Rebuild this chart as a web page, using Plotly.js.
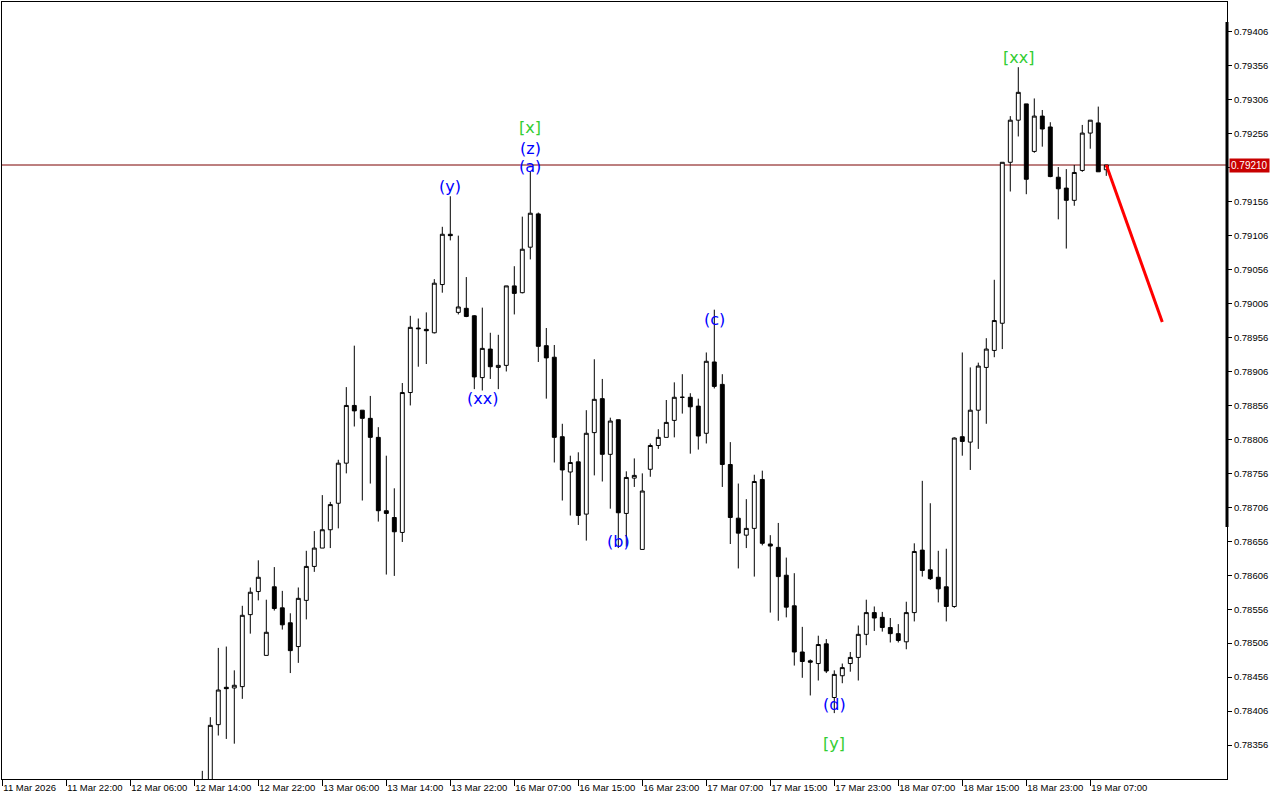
<!DOCTYPE html>
<html>
<head>
<meta charset="utf-8">
<script src="https://cdn.plot.ly/plotly-3.0.1.min.js"></script>
<style>html,body{margin:0;padding:0;background:#fff;}#chart{width:1280px;height:800px;}</style>
</head>
<body>
<div id="chart"></div>
<script>
// Hourly bars, index 0 = 11 Mar 2026 14:00 (first visible bar index 25)
const firstBar = 25;
const opens = [0.78300,0.78292,0.78386,0.78441,0.78440,0.78442,0.78548,0.78582,0.78488,0.78589,
0.78558,0.78536,0.78501,0.78569,0.78619,0.78646,0.78673,0.78712,0.78771,0.78856,
0.78849,0.78837,0.78809,0.78701,0.78691,0.78669,0.78875,0.78970,0.78968,0.78963,
0.79034,0.79108,0.78993,0.78999,0.78988,0.78897,0.78939,0.78912,0.78915,0.79032,
0.79022,0.79089,0.79138,0.78944,0.78927,0.78810,0.78758,0.78773,0.78696,0.78816,
0.78866,0.78784,0.78835,0.78697,0.78749,0.78644,0.78762,0.78797,0.78809,0.78834,
0.78868,0.78868,0.78855,0.78815,0.78920,0.78887,0.78769,0.78690,0.78665,0.78675,
0.78747,0.78652,0.78647,0.78606,0.78561,0.78493,0.78480,0.78476,0.78505,0.78426,
0.78458,0.78476,0.78485,0.78519,0.78551,0.78544,0.78529,0.78520,0.78508,0.78551,
0.78643,0.78614,0.78603,0.78589,0.78560,0.78810,0.78802,0.78849,0.78912,0.78937,
0.78977,0.79214,0.79276,0.79300,0.79230,0.79282,0.79266,0.79192,0.79176,0.79158,
0.79202,0.79257,0.79272,0.79203];
const highs = [0.78318,0.78397,0.78499,0.78501,0.78466,0.78561,0.78588,0.78628,0.78570,0.78618,
0.78583,0.78550,0.78588,0.78642,0.78671,0.78724,0.78714,0.78776,0.78883,0.78944,
0.78849,0.78870,0.78824,0.78782,0.78734,0.78889,0.78988,0.78984,0.78993,0.79042,
0.79119,0.79164,0.79106,0.79045,0.78989,0.79000,0.78963,0.78960,0.79032,0.79061,
0.79134,0.79200,0.79140,0.78970,0.78945,0.78829,0.78782,0.78787,0.78849,0.78924,
0.78895,0.78838,0.78835,0.78759,0.78778,0.78756,0.78800,0.78821,0.78864,0.78890,
0.78902,0.78874,0.78866,0.78934,0.78997,0.78902,0.78802,0.78741,0.78718,0.78754,
0.78760,0.78665,0.78683,0.78632,0.78609,0.78530,0.78482,0.78517,0.78512,0.78466,
0.78476,0.78493,0.78532,0.78570,0.78560,0.78552,0.78543,0.78534,0.78567,0.78653,
0.78745,0.78712,0.78642,0.78645,0.78809,0.78934,0.78912,0.78919,0.78955,0.79041,
0.79214,0.79282,0.79354,0.79300,0.79308,0.79291,0.79273,0.79207,0.79204,0.79210,
0.79269,0.79276,0.79296,0.79210];
const lows = [0.78280,0.78285,0.78370,0.78365,0.78358,0.78424,0.78520,0.78569,0.78488,0.78554,
0.78526,0.78462,0.78477,0.78541,0.78611,0.78646,0.78646,0.78675,0.78756,0.78825,
0.78716,0.78741,0.78685,0.78607,0.78605,0.78655,0.78856,0.78913,0.78917,0.78962,
0.79022,0.79099,0.78990,0.78986,0.78880,0.78878,0.78895,0.78880,0.78906,0.78990,
0.79021,0.79071,0.78920,0.78866,0.78772,0.78716,0.78694,0.78680,0.78657,0.78753,
0.78744,0.78704,0.78646,0.78648,0.78736,0.78644,0.78751,0.78792,0.78809,0.78809,
0.78844,0.78785,0.78791,0.78800,0.78881,0.78736,0.78652,0.78616,0.78646,0.78604,
0.78650,0.78551,0.78539,0.78544,0.78473,0.78455,0.78429,0.78451,0.78462,0.78403,
0.78447,0.78464,0.78451,0.78503,0.78524,0.78523,0.78507,0.78507,0.78497,0.78538,
0.78604,0.78599,0.78566,0.78538,0.78558,0.78782,0.78761,0.78792,0.78829,0.78927,
0.78939,0.79171,0.79252,0.79167,0.79228,0.79237,0.79192,0.79130,0.79087,0.79150,
0.79200,0.79234,0.79200,0.79194];
const closes = [0.78290,0.78385,0.78437,0.78439,0.78444,0.78547,0.78581,0.78603,0.78522,0.78557,
0.78533,0.78495,0.78572,0.78619,0.78646,0.78673,0.78710,0.78771,0.78856,0.78848,
0.78837,0.78809,0.78701,0.78697,0.78670,0.78875,0.78971,0.78969,0.78966,0.79036,
0.79108,0.79106,0.79001,0.78987,0.78898,0.78940,0.78913,0.78915,0.79032,0.79021,
0.79086,0.79139,0.78943,0.78926,0.78809,0.78761,0.78772,0.78694,0.78815,0.78865,
0.78784,0.78833,0.78698,0.78750,0.78753,0.78730,0.78797,0.78809,0.78831,0.78868,
0.78868,0.78854,0.78811,0.78921,0.78884,0.78769,0.78691,0.78668,0.78675,0.78744,
0.78653,0.78649,0.78604,0.78559,0.78493,0.78479,0.78478,0.78504,0.78465,0.78460,
0.78470,0.78485,0.78519,0.78551,0.78543,0.78529,0.78520,0.78510,0.78551,0.78641,
0.78613,0.78601,0.78586,0.78560,0.78808,0.78803,0.78849,0.78914,0.78939,0.78981,
0.79214,0.79276,0.79317,0.79189,0.79282,0.79263,0.79193,0.79175,0.79158,0.79199,
0.79257,0.79276,0.79200,0.79210];

const tickBars = [0,8,16,24,32,40,48,56,64,72,80,88,96,104,112,120,128,136];
const tickLabels = ["11 Mar 2026","11 Mar 22:00","12 Mar 06:00","12 Mar 14:00","12 Mar 22:00",
"13 Mar 06:00","13 Mar 14:00","13 Mar 22:00","16 Mar 07:00","16 Mar 15:00","16 Mar 23:00",
"17 Mar 07:00","17 Mar 15:00","17 Mar 23:00","18 Mar 07:00","18 Mar 15:00","18 Mar 23:00","19 Mar 07:00"];
const priceTicks = [0.78356,0.78406,0.78456,0.78506,0.78556,0.78606,0.78656,0.78706,0.78756,0.78806,
0.78856,0.78906,0.78956,0.79006,0.79056,0.79106,0.79156,0.79206,0.79256,0.79306,0.79356,0.79406];
const currentPrice = 0.79210;

// Wave labels: text, bar index, price, colour
const waveText  = ["[x]","(z)","(a)","(y)","(xx)","(b)","(c)","(d)","[y]","[xx]"];
const waveBar   = [66,66,66,56,60,77,89,104,104,127];
const wavePrice = [0.79265,0.79235,0.79208,0.79178,0.78866,0.78656,0.78982,0.78415,0.78359,0.79368];
const waveGreen = [true,false,false,false,false,false,false,false,true,true];

// Projection line
const projBars = [138,145];
const projPrices = [0.79210,0.78979];

const bars = opens.map((_, i) => firstBar + i);

const candle = {
  type: 'candlestick', x: bars, open: opens, high: highs, low: lows, close: closes,
  increasing: {line: {color: '#000000', width: 1}, fillcolor: '#ffffff'},
  decreasing: {line: {color: '#000000', width: 1}, fillcolor: '#000000'},
  whiskerwidth: 0, hoverinfo: 'skip', showlegend: false
};
const proj = {
  type: 'scatter', mode: 'lines', x: projBars, y: projPrices,
  line: {color: '#ff0000', width: 3}, hoverinfo: 'skip', showlegend: false
};

const annotations = waveText.map((t, i) => ({
  x: waveBar[i], y: wavePrice[i], xref: 'x', yref: 'y', text: t, showarrow: false,
  xanchor: 'center', yanchor: 'middle',
  font: {family: 'DejaVu Sans', size: 16, color: waveGreen[i] ? '#32cd32' : '#0000ff'}
}));
annotations.push({
  x: 1, xref: 'paper', y: currentPrice, yref: 'y', text: currentPrice.toFixed(5),
  showarrow: false, xanchor: 'left', yanchor: 'middle', xshift: 2,
  bgcolor: '#c80000', borderpad: 1,
  font: {family: 'Liberation Sans', size: 10, color: '#ffffff'}
});

const layout = {
  width: 1280, height: 800,
  margin: {l: 2, r: 53, t: 2, b: 21},
  paper_bgcolor: '#ffffff', plot_bgcolor: '#ffffff',
  showlegend: false,
  boxgap: 0.3,
  xaxis: {
    type: 'linear', range: [-0.04, 153.09], rangeslider: {visible: false},
    tickmode: 'array', tickvals: tickBars, ticktext: tickLabels,
    ticks: 'outside', ticklen: 6, tickcolor: '#000', tickwidth: 1,
    ticklabelposition: 'outside right', tickangle: 0, ticklabelstandoff: 0,
    showgrid: false, zeroline: false, showline: true, linecolor: '#000', linewidth: 1, mirror: true,
    tickfont: {family: 'Liberation Sans', size: 9.5, color: '#000'}
  },
  yaxis: {
    side: 'right', range: [0.78306, 0.79450],
    tickmode: 'array', tickvals: priceTicks,
    ticktext: priceTicks.map(v => Math.abs(v - currentPrice) < 0.0001 ? '' : v.toFixed(5)),
    ticks: 'outside', ticklen: 4, tickcolor: '#000', tickwidth: 1,
    showgrid: false, zeroline: false, showline: true, linecolor: '#000', linewidth: 1, mirror: true,
    tickfont: {family: 'Liberation Sans', size: 9.5, color: '#000'}
  },
  shapes: [
    {type: 'line', xref: 'paper', x0: 0, x1: 1, yref: 'y', y0: currentPrice, y1: currentPrice,
     line: {color: '#7a0000', width: 1}, layer: 'below'},
    {type: 'line', xref: 'paper', x0: 1, x1: 1, yref: 'paper', y0: 0.3243, y1: 0.9743,
     line: {color: '#000000', width: 3}}
  ],
  annotations: annotations
};

Plotly.newPlot('chart', [candle, proj], layout, {displayModeBar: false, staticPlot: true});
</script>
</body>
</html>
